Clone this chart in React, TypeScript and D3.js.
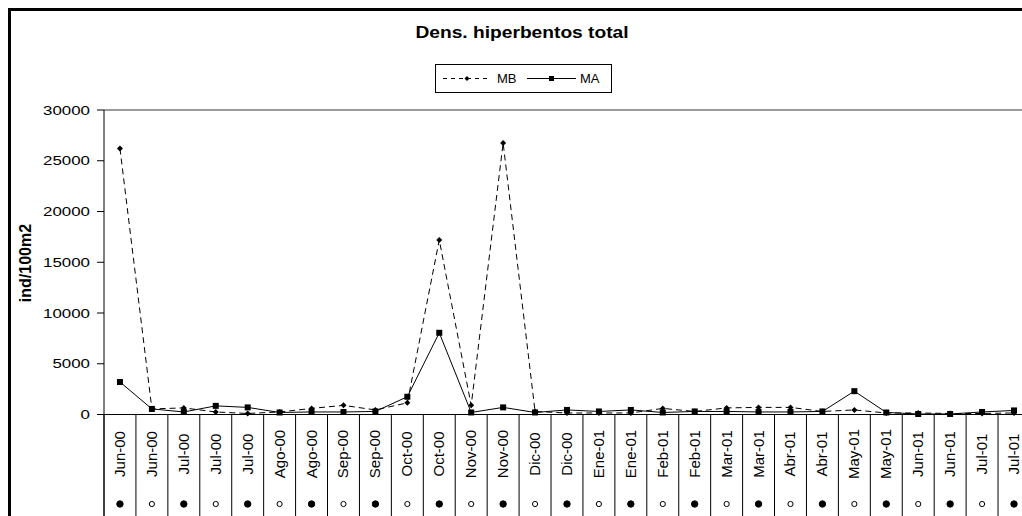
import React from "react";
import * as d3 from "d3";

const categories = ["Jun-00","Jun-00","Jul-00","Jul-00","Jul-00","Ago-00","Ago-00","Sep-00","Sep-00","Oct-00","Oct-00","Nov-00","Nov-00","Dic-00","Dic-00","Ene-01","Ene-01","Feb-01","Feb-01","Mar-01","Mar-01","Abr-01","Abr-01","May-01","May-01","Jun-01","Jun-01","Jul-01","Jul-01"];
const phase = ["●","○","●","○","●","○","●","○","●","○","●","○","●","○","●","○","●","○","●","○","●","○","●","○","●","○","●","○","●"];
const MB = [26200, 550, 650, 250, 100, 250, 600, 900, 450, 1150, 17200, 900, 26750, 300, 150, 150, 150, 600, 300, 650, 700, 700, 300, 450, 150, 150, 100, 100, 150];
const MA = [3200, 550, 250, 850, 700, 200, 250, 250, 300, 1750, 8050, 200, 700, 200, 450, 300, 450, 200, 300, 300, 250, 250, 300, 2300, 200, 50, 50, 250, 400];
const yTicks = [0, 5000, 10000, 15000, 20000, 25000, 30000];
const title = "Dens. hiperbentos total";
const yLabel = "ind/100m2";
const seriesNames = ["MB", "MA"];

const W = 1022, H = 516;
const left = 104, band = 31.93, top = 110, zeroY = 414.5;

export default function App() {
  const idx = categories.map((_, i) => String(i));
  const x = d3.scaleBand<string>().domain(idx).range([left, left + band * categories.length]).padding(0);
  const y = d3.scaleLinear().domain([0, 30000]).range([zeroY, top]);
  const cx = (i: number) => (x(String(i)) as number) + x.bandwidth() / 2;
  const line = d3.line<number>().x((_, i) => cx(i)).y((d) => y(d));
  const font = "'Liberation Sans', Arial, sans-serif";
  const diamond = (px: number, py: number, s = 3) => `M${px},${py - s}L${px + s},${py}L${px},${py + s}L${px - s},${py}Z`;

  return (
    <svg width={W} height={H} style={{ position: "absolute", left: 0, top: 0, background: "#fff" }} fontFamily={font}>
      <rect x={0} y={0} width={W} height={H} fill="#fff" />
      {/* outer frame */}
      <rect x={9.5} y={9.5} width={1200} height={700} fill="none" stroke="#000" strokeWidth={3} />
      {/* title */}
      <g transform={`translate(522,38) scale(1.2,1)`}>
        <text x={0} y={0} textAnchor="middle" fontSize={16} fontWeight="bold">{title}</text>
      </g>
      {/* legend */}
      <rect x={435.5} y={64.5} width={176} height={28} fill="#fff" stroke="#000" strokeWidth={1} />
      <line x1={443} x2={491} y1={78.5} y2={78.5} stroke="#000" strokeDasharray="4,4" />
      <path d={diamond(467, 78.5, 2.5)} fill="#000" />
      <text x={497} y={78.5} dominantBaseline="central" fontSize={13}>{seriesNames[0]}</text>
      <line x1={527} x2={576} y1={78.5} y2={78.5} stroke="#000" />
      <rect x={549} y={76} width={5} height={5} fill="#000" />
      <text x={580} y={78.5} dominantBaseline="central" fontSize={13}>{seriesNames[1]}</text>
      {/* plot top border */}
      <line x1={left} x2={W} y1={top} y2={top} stroke="#9a9a9a" strokeWidth={2} />
      {/* y axis */}
      <line x1={left} x2={left} y1={top} y2={H} stroke="#000" />
      {yTicks.map((t) => (
        <g key={t}>
          <line x1={97} x2={left} y1={y(t)} y2={y(t)} stroke="#000" />
          <g transform={`translate(90,${y(t)}) scale(1.3,1)`}>
            <text x={0} y={0} textAnchor="end" dominantBaseline="central" fontSize={13}>{t}</text>
          </g>
        </g>
      ))}
      <text transform={`translate(25,263) rotate(-90)`} textAnchor="middle" dominantBaseline="central" fontSize={16} fontWeight="bold">{yLabel}</text>
      {/* x axis */}
      <line x1={left} x2={W} y1={zeroY} y2={zeroY} stroke="#000" />
      {d3.range(categories.length + 1).map((i) => {
        const xx = left + band * i;
        return <line key={i} x1={xx} x2={xx} y1={zeroY} y2={H} stroke="#000" />;
      })}
      {categories.map((c, i) => (
        <text key={"c" + i} transform={`translate(${cx(i) - 0.5},454) rotate(-90)`} textAnchor="middle" dominantBaseline="central" fontSize={15}>{c}</text>
      ))}
      {phase.map((p, i) => (
        <circle key={"p" + i} cx={cx(i)} cy={504} r={p === "●" ? 3.2 : 2.6} fill={p === "●" ? "#000" : "#fff"} stroke="#000" strokeWidth={1} />
      ))}
      {/* series */}
      <path d={line(MB) || ""} fill="none" stroke="#000" strokeWidth={1} strokeDasharray="6,4" />
      <path d={line(MA) || ""} fill="none" stroke="#000" strokeWidth={1} />
      {MB.map((v, i) => <path key={"mb" + i} d={diamond(cx(i), y(v), 3)} fill="#000" />)}
      {MA.map((v, i) => <rect key={"ma" + i} x={cx(i) - 3} y={y(v) - 3} width={6} height={6} fill="#000" />)}
    </svg>
  );
}
